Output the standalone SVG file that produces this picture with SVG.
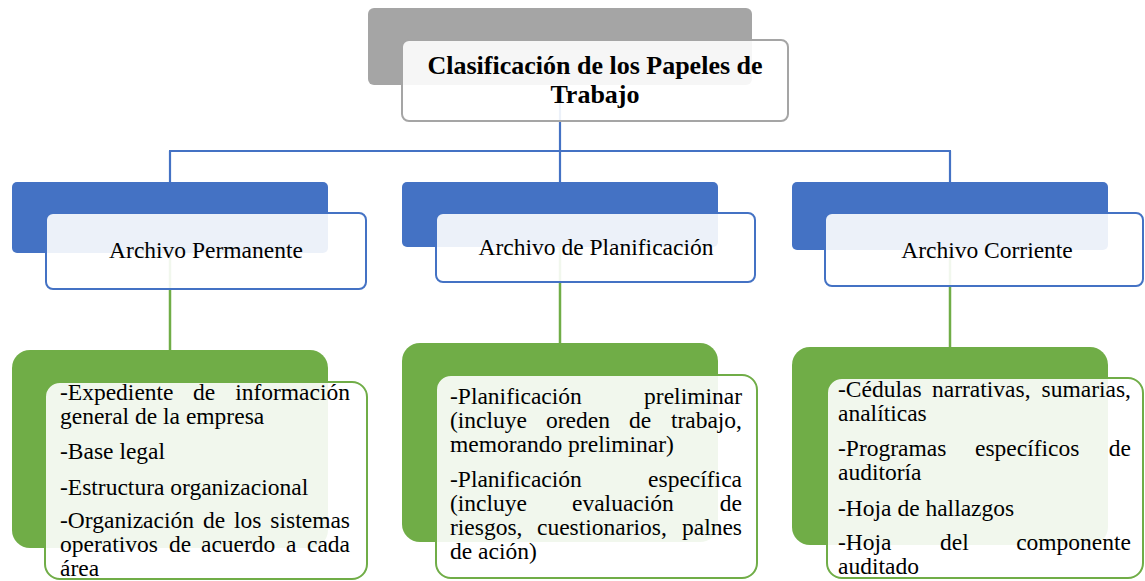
<svg xmlns="http://www.w3.org/2000/svg" width="1145" height="581" viewBox="0 0 1145 581">
<style>
.bg{fill:#ffffff}
.grey{fill:#a5a5a5}
.blue{fill:#4472c4}
.green{fill:#70ad47}
.tbox{fill:#ffffff;fill-opacity:0.9;stroke:#a5a5a5;stroke-width:2}
.bbox{fill:#ffffff;fill-opacity:0.9;stroke:#4472c4;stroke-width:2}
.gbox{fill:#ffffff;fill-opacity:0.9;stroke:#70ad47;stroke-width:2}
.cb{stroke:#4472c4;stroke-width:2.2;fill:none}
.cg{stroke:#70ad47;stroke-width:2.5;fill:none}
text{font-family:"Liberation Serif","Times New Roman",serif;fill:#000000}
.title{font-size:26px;font-weight:bold;text-anchor:middle}
.head{font-size:23.5px;text-anchor:middle}
.body{font-size:23.5px}
.e{text-anchor:end}
</style>
<rect class="bg" x="0" y="0" width="1145" height="581"/>
<g id="connectors">
<line class="cb" x1="560" y1="85" x2="560" y2="151"/>
<line class="cb" x1="169" y1="151" x2="951" y2="151"/>
<line class="cb" x1="170" y1="151" x2="170" y2="182"/>
<line class="cb" x1="560" y1="151" x2="560" y2="182"/>
<line class="cb" x1="950" y1="151" x2="950" y2="182"/>
<line class="cg" x1="170" y1="253" x2="170" y2="350"/>
<line class="cg" x1="560" y1="247" x2="560" y2="343"/>
<line class="cg" x1="950" y1="250" x2="950" y2="347"/>
</g>
<g id="title">
<rect class="grey" x="368" y="8" width="384" height="77" rx="6"/>
<rect class="tbox" x="402" y="40" width="386" height="81" rx="7"/>
<text class="title" x="595" y="74">Clasificación de los Papeles de</text>
<text class="title" x="595" y="103">Trabajo</text>
</g>
<g id="permanente">
<rect class="blue" x="12" y="182" width="316" height="71" rx="5"/>
<rect class="bbox" x="46" y="213" width="320" height="76" rx="7"/>
<text class="head" x="206" y="258">Archivo Permanente</text>
</g>
<g id="planificacion">
<rect class="blue" x="402" y="182" width="316" height="65" rx="5"/>
<rect class="bbox" x="436" y="213" width="319" height="69" rx="7"/>
<text class="head" x="596" y="255">Archivo de Planificación</text>
</g>
<g id="corriente">
<rect class="blue" x="792" y="182" width="316" height="68" rx="5"/>
<rect class="bbox" x="825" y="213" width="318" height="73" rx="7"/>
<text class="head" x="987" y="258">Archivo Corriente</text>
</g>
<g id="permanente-detalle">
<rect class="green" x="12" y="350" width="316" height="198" rx="18"/>
<rect class="gbox" x="45" y="382" width="322" height="197" rx="15"/>
<text class="body" x="60" y="400">-Expediente</text>
<text class="body" x="193" y="400">de</text>
<text class="body e" x="350" y="400">información</text>
<text class="body" x="60" y="424">general de la empresa</text>
<text class="body" x="60" y="459">-Base legal</text>
<text class="body" x="60" y="495">-Estructura organizacional</text>
<text class="body" x="60" y="528">-Organización</text>
<text class="body" x="203" y="528">de</text>
<text class="body" x="234" y="528">los</text>
<text class="body e" x="350" y="528">sistemas</text>
<text class="body" x="60" y="552">operativos</text>
<text class="body" x="169" y="552">de</text>
<text class="body" x="201" y="552">acuerdo</text>
<text class="body" x="286" y="552">a</text>
<text class="body e" x="350" y="552">cada</text>
<text class="body" x="60" y="576">área</text>
</g>
<g id="planificacion-detalle">
<rect class="green" x="402" y="343" width="316" height="199" rx="18"/>
<rect class="gbox" x="436" y="375" width="321" height="203" rx="15"/>
<text class="body" x="450" y="404">-Planificación</text>
<text class="body e" x="742" y="404">preliminar</text>
<text class="body" x="450" y="428">(incluye</text>
<text class="body" x="546" y="428">oreden</text>
<text class="body" x="629" y="428">de</text>
<text class="body e" x="742" y="428">trabajo,</text>
<text class="body" x="450" y="452">memorando preliminar)</text>
<text class="body" x="450" y="487">-Planificación</text>
<text class="body e" x="742" y="487">específica</text>
<text class="body" x="450" y="511">(incluye</text>
<text class="body" x="572" y="511">evaluación</text>
<text class="body e" x="742" y="511">de</text>
<text class="body" x="450" y="535">riesgos,</text>
<text class="body" x="537" y="535">cuestionarios,</text>
<text class="body e" x="742" y="535">palnes</text>
<text class="body" x="450" y="559">de ación)</text>
</g>
<g id="corriente-detalle">
<rect class="green" x="792" y="347" width="316" height="198" rx="18"/>
<rect class="gbox" x="827" y="378" width="316" height="200" rx="15"/>
<text class="body" x="838" y="397">-Cédulas</text>
<text class="body" x="932" y="397">narrativas,</text>
<text class="body e" x="1131" y="397">sumarias,</text>
<text class="body" x="838" y="421">analíticas</text>
<text class="body" x="838" y="456">-Programas</text>
<text class="body" x="975" y="456">específicos</text>
<text class="body e" x="1131" y="456">de</text>
<text class="body" x="838" y="480">auditoría</text>
<text class="body" x="838" y="516">-Hoja de hallazgos</text>
<text class="body" x="838" y="550">-Hoja</text>
<text class="body" x="940" y="550">del</text>
<text class="body e" x="1131" y="550">componente</text>
<text class="body" x="838" y="574">auditado</text>
</g>
</svg>
